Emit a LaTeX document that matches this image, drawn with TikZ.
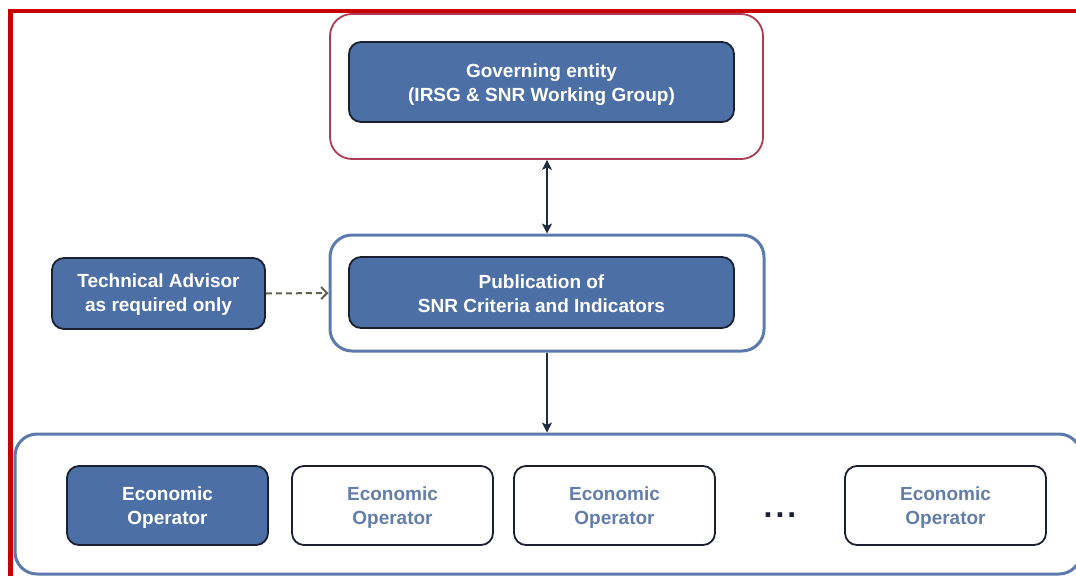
\documentclass[tikz,border=0pt]{standalone}
\usepackage{fontspec}
\setmainfont{Liberation Sans}
\usetikzlibrary{arrows.meta,calc}
\definecolor{boxblue}{RGB}{76,111,165}
\definecolor{boxedge}{RGB}{26,32,48}
\definecolor{outerblue}{RGB}{92,122,174}
\definecolor{outerred}{RGB}{176,58,86}
\definecolor{frame}{RGB}{200,0,0}
\definecolor{softtext}{RGB}{100,126,170}
\definecolor{arrowdark}{RGB}{30,44,64}
\definecolor{dashcol}{RGB}{95,95,80}
\tikzset{
  txt/.style={font=\fontsize{19}{24}\selectfont\bfseries, align=center, inner sep=0pt},
  filledbox/.style={draw=boxedge, line width=1.8pt, fill=boxblue, rounded corners=12pt, inner sep=0pt},
  openbox/.style={draw=boxedge, line width=1.8pt, fill=white, rounded corners=12pt, inner sep=0pt},
  wtxt/.style={txt, text=white},
  stxt/.style={txt, text=softtext},
  redouter/.style={draw=outerred, line width=1.8pt, rounded corners=22pt, inner sep=0pt},
  blueouter/.style={draw=outerblue, line width=3pt, rounded corners=22pt, inner sep=0pt},
  tipdark/.tip={Stealth[length=10pt,width=10pt,inset=2.5pt]},
  link/.style={draw=arrowdark, line width=1.1pt, -tipdark},
  duallink/.style={draw=arrowdark, line width=1.1pt, tipdark-tipdark},
  dashlink/.style={draw=dashcol, line width=2pt, dash pattern=on 6pt off 4pt, -{Straight Barb[length=6pt,width=12pt]}}
}
\begin{document}
\begin{tikzpicture}[x=1pt,y=-1pt]
\clip (0,0) rectangle (1076,576);
\fill[white] (0,0) rectangle (1076,576);
% red frame
\draw[frame, line width=4.5pt] (10.5,576) -- (10.5,11) -- (1076,11);
% outer containers
\node[redouter, minimum width=433pt, minimum height=145pt] (topOuter) at (546.5,86.5) {};
\node[blueouter, minimum width=434pt, minimum height=116pt] (midOuter) at (547,293) {};
\node[blueouter, minimum width=1066pt, minimum height=140pt] (botOuter) at (548,504) {};
% inner boxes
\node[filledbox, minimum width=385pt, minimum height=80pt,
  label={[wtxt,yshift=-3pt]center:Governing entity\\(IRSG \& SNR Working Group)}] (gov) at (541.5,82) {};
\node[filledbox, minimum width=385pt, minimum height=71pt,
  label={[wtxt,yshift=-1pt]center:Publication of\\SNR Criteria and Indicators}] (pub) at (541.5,292.5) {};
\node[filledbox, minimum width=213pt, minimum height=71pt,
  label={[wtxt,yshift=-1pt]center:Technical Advisor\\as required only}] (tech) at (158.5,293.5) {};
\node[filledbox, minimum width=201pt, minimum height=79pt,
  label={[wtxt,yshift=-2pt]center:Economic\\Operator}] (eo1) at (167.5,505.5) {};
\node[openbox, minimum width=201pt, minimum height=79pt,
  label={[stxt,yshift=-2pt]center:Economic\\Operator}] (eo2) at (392.5,505.5) {};
\node[openbox, minimum width=201pt, minimum height=79pt,
  label={[stxt,yshift=-2pt]center:Economic\\Operator}] (eo3) at (614.5,505.5) {};
\node[openbox, minimum width=201pt, minimum height=79pt,
  label={[stxt,yshift=-2pt]center:Economic\\Operator}] (eo4) at (945.5,505.5) {};
\node[font=\fontsize{32}{32}\selectfont\bfseries, text=boxedge, inner sep=0pt] (dots) at (780,515) {.\kern3pt.\kern3pt.};
% connectors
\draw[duallink] (midOuter.north |- topOuter.south) -- (midOuter.north);
\draw[link] (midOuter.south) -- (botOuter.north -| midOuter.south);
\draw[dashlink] (tech.east) -- (midOuter.west);
\end{tikzpicture}
\end{document}
